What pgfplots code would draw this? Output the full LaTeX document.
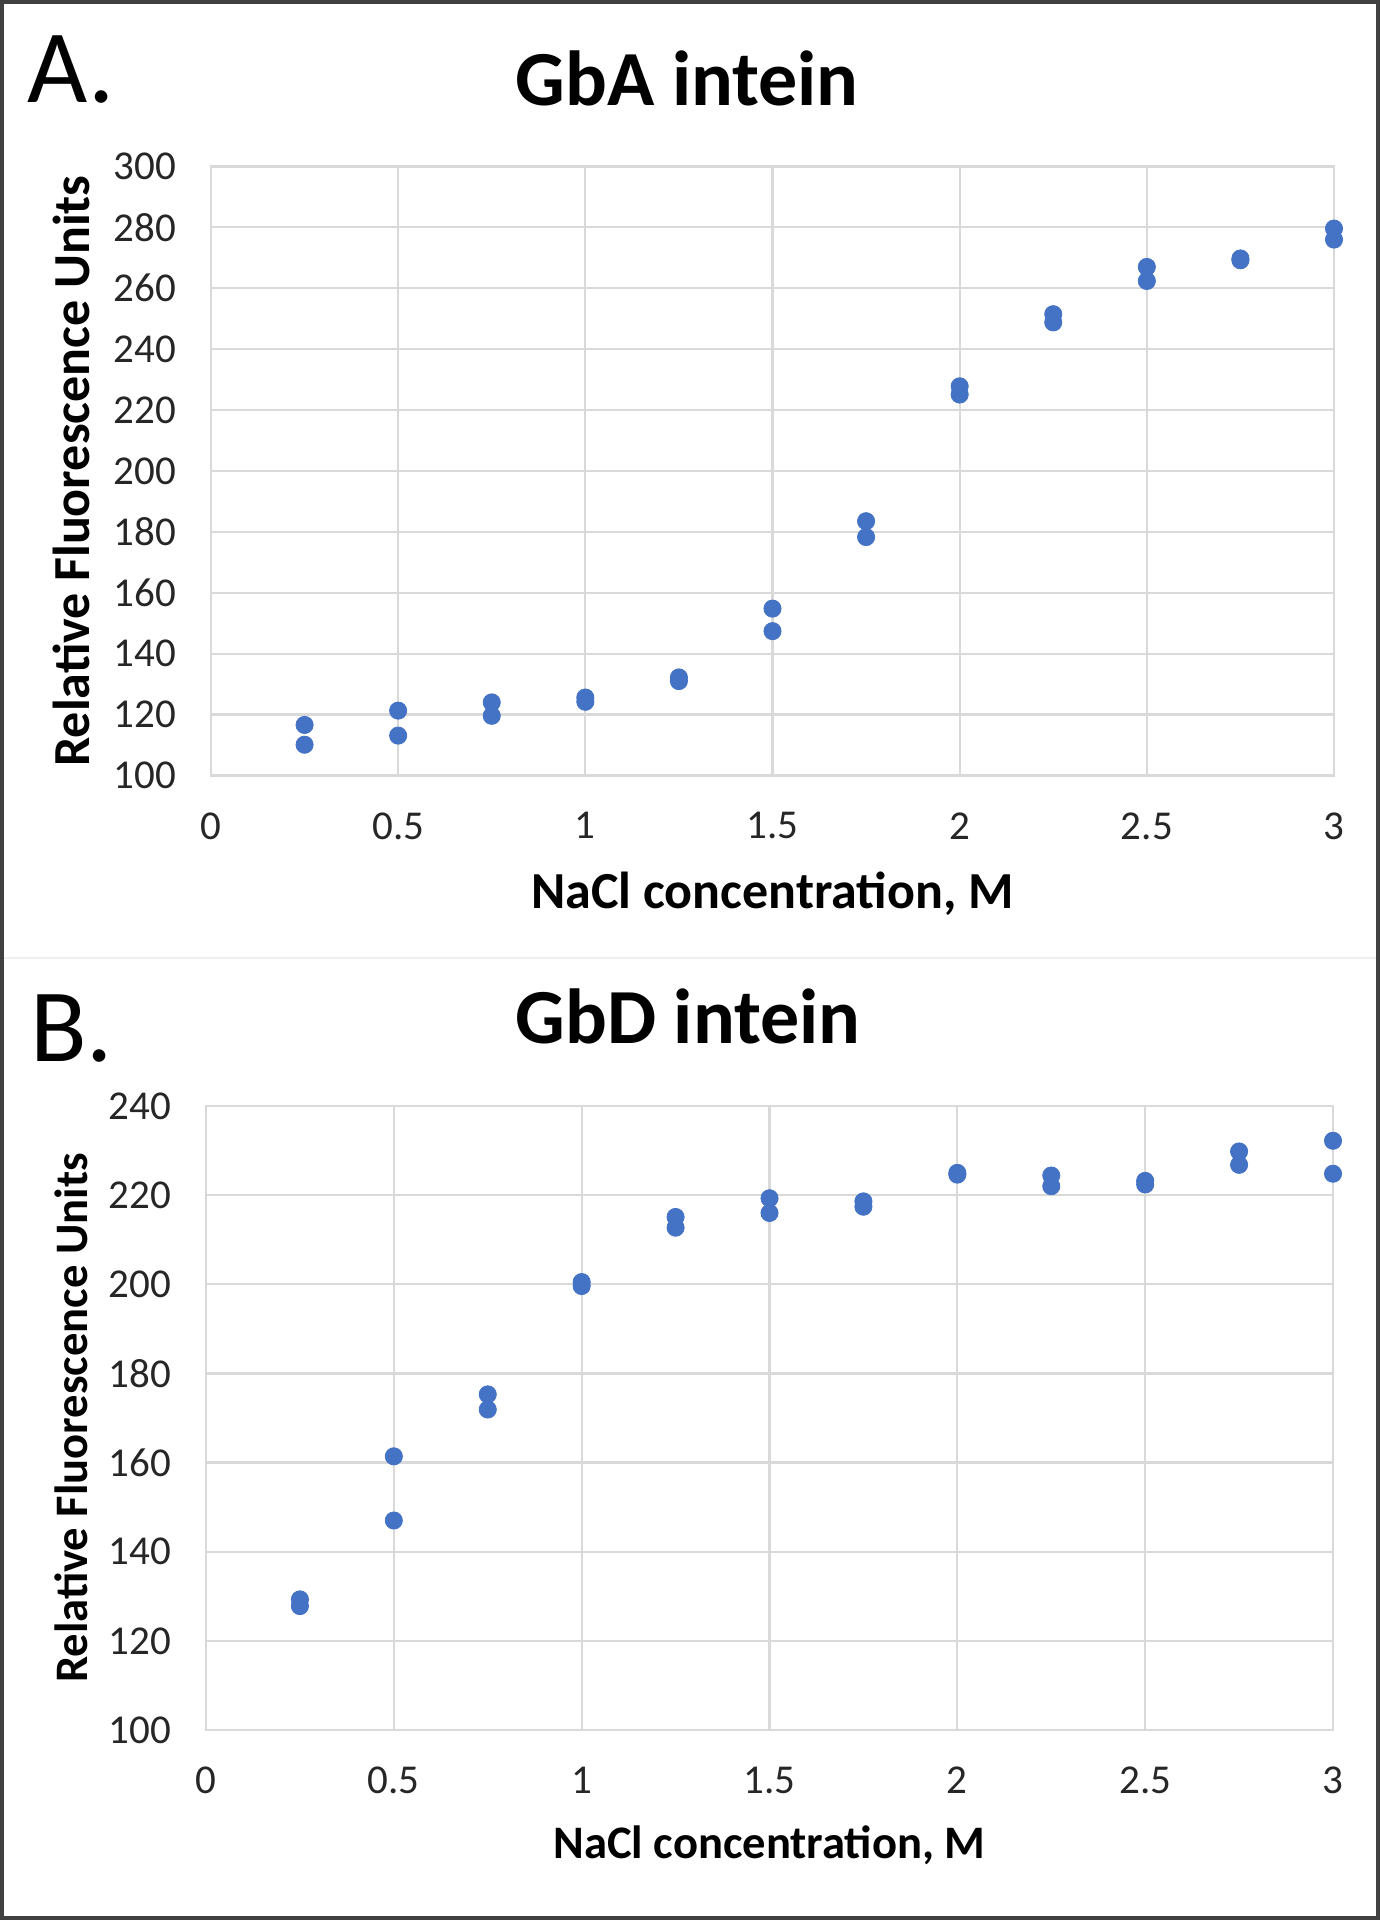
\documentclass[border=0pt]{standalone}
\usepackage{pgfplots}
\pgfplotsset{compat=1.18}
\usepackage{fontspec}
\setmainfont{Carlito}
\definecolor{dotblue}{HTML}{4472C4}
\definecolor{gridgray}{HTML}{D9D9D9}

\pgfplotstableread{
x y
0.25 116.6
0.25 110.1
0.5 121.3
0.5 113.1
0.75 124.0
0.75 119.6
1.0 125.6
1.0 124.2
1.25 132.2
1.25 131.0
1.5 154.8
1.5 147.4
1.75 183.5
1.75 178.3
2.0 227.8
2.0 225.1
2.25 251.5
2.25 248.8
2.5 267.0
2.5 262.4
2.75 269.8
2.75 269.2
3.0 279.6
3.0 276.0
}\gba

\pgfplotstableread{
x y
0.25 129.3
0.25 127.8
0.5 161.4
0.5 147.0
0.75 175.3
0.75 171.9
1.0 200.5
1.0 199.6
1.25 215.1
1.25 212.7
1.5 219.3
1.5 216.0
1.75 218.6
1.75 217.4
2.0 225.0
2.0 224.6
2.25 224.4
2.25 222.0
2.5 223.2
2.5 222.4
2.75 229.8
2.75 226.8
3.0 232.2
3.0 224.8
}\gbd

\pgfplotsset{
  excelstyle/.style={
    scale only axis,
    anchor=south west,
    xmin=0, xmax=3,
    xtick={0,0.5,1,1.5,2,2.5,3},
    xticklabels={0,0.5,1,1.5,2,2.5,3},
    grid=major,
    major grid style={color=gridgray, line width=1.1pt},
    axis line style={color=gridgray, line width=1.1pt},
    tick style={draw=none},
    /pgf/number format/assume math mode=true,
    tick label style={font=\fontsize{20.5}{24}\selectfont, color=black!85},
    xticklabel style={yshift=-15pt},
    yticklabel style={xshift=-14pt},
    label style={font=\bfseries\fontsize{26}{30}\selectfont},
    title style={font=\bfseries\fontsize{39}{44}\selectfont},
    clip=false,
  }
}

\begin{document}
\begin{tikzpicture}
\useasboundingbox (0,0) rectangle (690pt,960pt);
\fill[white] (0,0) rectangle (690pt,960pt);
% separator between panels
\draw[color=black!6, line width=1.2pt] (2pt,481pt) -- (688pt,481pt);

\begin{axis}[excelstyle,
  at={(105.5pt,572.25pt)}, width=561.5pt, height=304.5pt,
  ymin=100, ymax=300, ytick={100,120,...,300},
  xlabel={NaCl concentration, M},
  ylabel={Relative Fluorescence Units},
  xlabel style={at={(axis description cs:0.5,-0.1946)}, anchor=center},
  ylabel style={at={(axis description cs:-0.1247,0.5)}, anchor=center},
  title={GbA intein},
  title style={at={(axis description cs:0.424,1.1247)}, anchor=center},
]
\addplot[only marks, mark=*, mark size=4.3pt, color=dotblue] table[x=x,y=y] {\gba};
\end{axis}

\begin{axis}[excelstyle,
  at={(103pt,95pt)}, width=563.5pt, height=312pt,
  ymin=100, ymax=240, ytick={100,120,...,240},
  xlabel={NaCl concentration, M},
  ylabel={Relative Fluorescence Units},
  label style={font=\bfseries\fontsize{23.3}{27}\selectfont},
  xlabel style={at={(axis description cs:0.5,-0.1843)}, anchor=center},
  ylabel style={at={(axis description cs:-0.1198,0.5)}, anchor=center},
  title={GbD intein},
  title style={at={(axis description cs:0.4277,1.124)}, anchor=center},
]
\addplot[only marks, mark=*, mark size=4.3pt, color=dotblue] table[x=x,y=y] {\gbd};
\end{axis}

\node[anchor=west, inner sep=0pt, font=\fontsize{52}{56}\selectfont] at (13.5pt,925pt) {A.};
\node[anchor=west, inner sep=0pt, font=\fontsize{52}{56}\selectfont] at (15pt,445.5pt) {B.};

% outer frame
\draw[color=black!75, line width=2.2pt] (1.1pt,1.1pt) rectangle (688.9pt,958.9pt);
\end{tikzpicture}
\end{document}
